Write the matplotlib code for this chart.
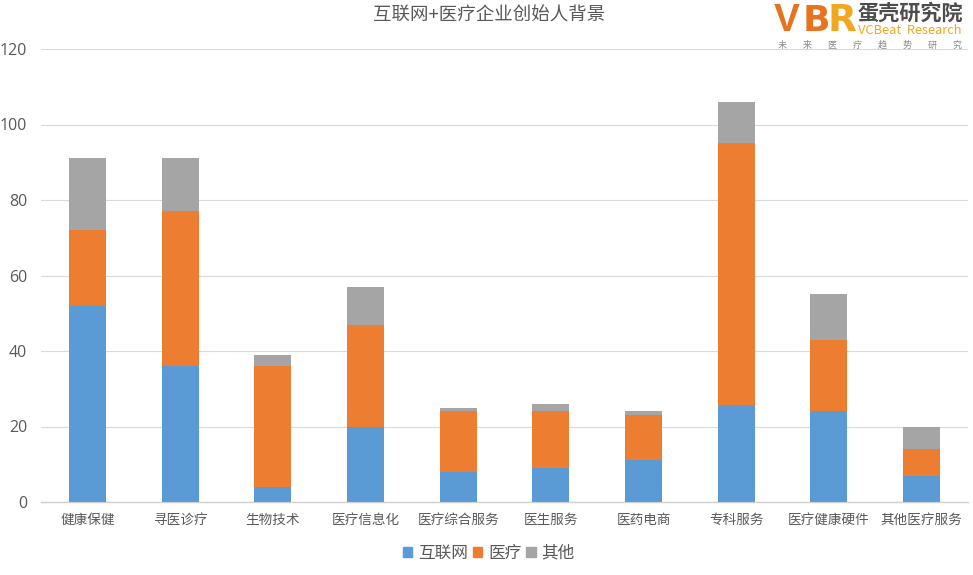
import numpy as np
import matplotlib.pyplot as plt
from matplotlib.patches import Patch

plt.rcParams['font.family'] = ['Noto Sans CJK SC', 'DejaVu Sans']

categories = ["健康保健", "寻医诊疗", "生物技术", "医疗信息化", "医疗综合服务",
              "医生服务", "医药电商", "专科服务", "医疗健康硬件", "其他医疗服务"]
internet = [52, 36, 4, 20, 8, 9, 11, 25.7, 24, 7]
medical = [20, 41, 32, 27, 16, 15, 12, 69.3, 19, 7]
other = [19, 14, 3, 10, 1, 2, 1, 11, 12, 6]

blue = "#5B9BD5"
orange = "#ED7D31"
gray = "#A5A5A5"
text_col = "#595959"

fig = plt.figure(figsize=(9.73, 5.75), dpi=100)
ax = fig.add_axes([41 / 973, 1 - 502 / 575, 927 / 973, 453 / 575])

x = np.arange(len(categories))
w = 0.4
b1 = np.array(internet)
b2 = b1 + np.array(medical)
ax.bar(x, internet, w, color=blue, zorder=3)
ax.bar(x, medical, w, bottom=b1, color=orange, zorder=3)
ax.bar(x, other, w, bottom=b2, color=gray, zorder=3)

ax.set_xlim(-0.5, 9.5)
ax.set_ylim(0, 120)
ax.set_yticks(range(0, 121, 20))
ax.set_xticks(x)
ax.set_xticklabels(categories, fontsize=9.8, color=text_col)
ax.tick_params(axis='both', length=0)
ax.tick_params(axis='y', labelsize=11.5, labelcolor=text_col, pad=10)
ax.tick_params(axis='x', pad=8)
for t in ax.get_yticklabels():
    t.set_family("Open Sans")
ax.grid(axis='y', color="#D9D9D9", lw=0.8, zorder=0)
for s in ["top", "right", "left"]:
    ax.spines[s].set_visible(False)
ax.spines["bottom"].set_color("#D0D0D0")
ax.spines["bottom"].set_linewidth(1)

fig.text(489.5 / 973, 1 - 16 / 575, "互联网+医疗企业创始人背景", fontsize=13.3,
         color=text_col, ha="center", va="center")

handles = [Patch(color=blue), Patch(color=orange), Patch(color=gray)]
fig.legend(handles, ["互联网", "医疗", "其他"], loc="center", ncol=3, frameon=False,
           bbox_to_anchor=(489 / 973, 1 - 553 / 575), fontsize=12, labelcolor=text_col,
           handlelength=0.55, handleheight=0.55, handletextpad=0.35, columnspacing=0.3)

# logo
logo = fig.add_axes([0, 0, 1, 1], facecolor="none")
logo.set_xlim(0, 973)
logo.set_ylim(575, 0)
logo.axis("off")
logo.text(787, 31, "V", fontsize=28, fontweight="bold", family="Liberation Sans", color="#E8731F", ha="center", va="baseline")
logo.text(816, 31, "B", fontsize=26, fontweight="bold", family="Liberation Sans Narrow", color="#E8731F", ha="center", va="baseline")
logo.text(842, 31, "R", fontsize=27, fontweight="bold", family="Liberation Sans Narrow", color="#F0A820", ha="center", va="baseline")
logo.text(910, 13, "蛋壳研究院", fontsize=15.2, fontweight="bold", color="#4D4D4D", ha="center", va="center")
logo.text(910, 31, "VCBeat  Research", fontsize=9.3, color="#F0A820", ha="center", va="center")
logo.text(870, 45, "未        来        医        疗        趋        势        研        究", fontsize=6.5, color="#888888", ha="center", va="center")

fig.savefig("out.png", dpi=100)
